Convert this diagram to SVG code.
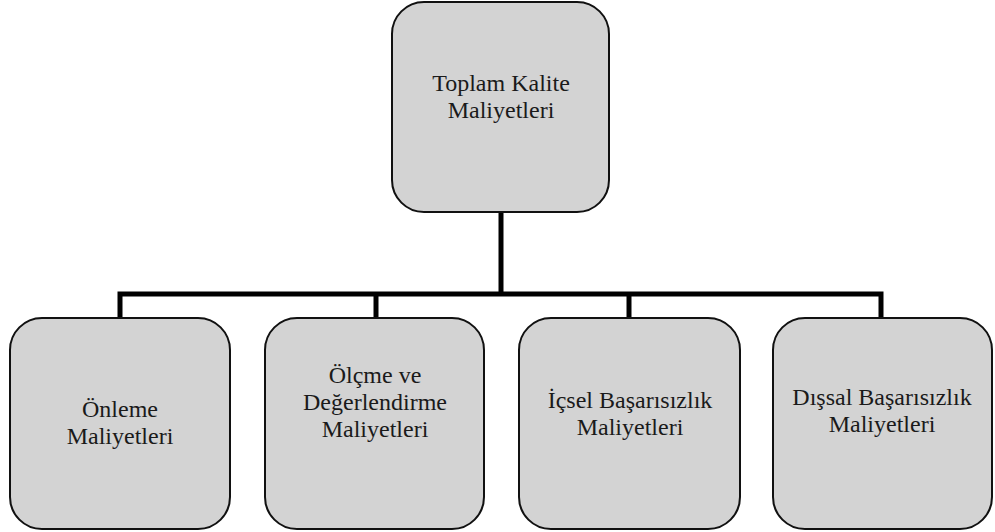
<svg xmlns="http://www.w3.org/2000/svg" width="995" height="532" viewBox="0 0 995 532">
  <style>
    .box { fill: #d3d3d3; stroke: #111; stroke-width: 2; }
    .label { font-family: 'Liberation Serif', 'Times New Roman', Times, serif; font-size: 24px; fill: #1a1a1a; text-anchor: middle; }
    .wire { fill: none; stroke: #000; stroke-width: 5; stroke-linejoin: miter; stroke-linecap: butt; }
  </style>
  <rect width="995" height="532" fill="#ffffff"/>

  <!-- tree connectors -->
  <g id="connectors">
    <path class="wire" d="M501,212 V294"/>
    <path class="wire" d="M120,318 V294 H881 V318"/>
    <path class="wire" d="M376,294 V318"/>
    <path class="wire" d="M629,294 V318"/>
  </g>

  <g font-family="Liberation Serif, serif">
    <g id="node-toplam">
      <rect class="box" x="392" y="2" width="217" height="210" rx="32" ry="32"/>
      <text class="label" x="501" y="91">Toplam Kalite</text>
      <text class="label" x="501" y="118">Maliyetleri</text>
    </g>

    <g id="node-onleme">
      <rect class="box" x="10" y="318" width="220" height="211" rx="32" ry="32"/>
      <text class="label" x="120" y="417">Önleme</text>
      <text class="label" x="120" y="444">Maliyetleri</text>
    </g>

    <g id="node-olcme">
      <rect class="box" x="265" y="318" width="219" height="211" rx="32" ry="32"/>
      <text class="label" x="375" y="383">Ölçme ve</text>
      <text class="label" x="375" y="410">Değerlendirme</text>
      <text class="label" x="375" y="437">Maliyetleri</text>
    </g>

    <g id="node-icsel">
      <rect class="box" x="519" y="318" width="221" height="211" rx="32" ry="32"/>
      <text class="label" x="630" y="408">İçsel Başarısızlık</text>
      <text class="label" x="630" y="435">Maliyetleri</text>
    </g>

    <g id="node-dissal">
      <rect class="box" x="773" y="318" width="219" height="211" rx="32" ry="32"/>
      <text class="label" x="882" y="405">Dışsal Başarısızlık</text>
      <text class="label" x="882" y="432">Maliyetleri</text>
    </g>
  </g>
</svg>
